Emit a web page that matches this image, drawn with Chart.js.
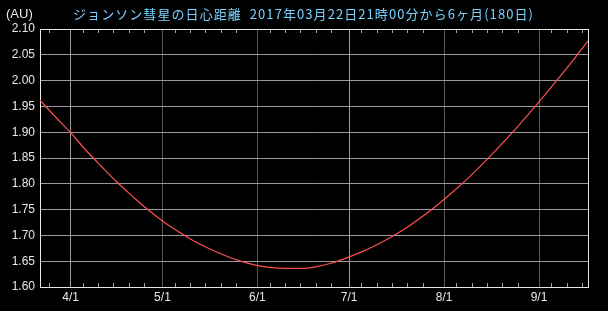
<!DOCTYPE html>
<html><head><meta charset="utf-8">
<script src="https://cdn.jsdelivr.net/npm/chart.js@4/dist/chart.umd.min.js"></script>
<style>html,body{margin:0;padding:0;background:#000;}#wrap{width:608px;height:311px;position:relative}</style>
</head><body><div id="wrap"><canvas id="c" width="608" height="311"></canvas></div>
<script>
// ---- data ----
const titleText = 'ジョンソン彗星の日心距離  2017年03月22日21時00分から6ヶ月(180日)';
const unitLabel = '(AU)';
const startDate = [2017, 3, 22, 21];          // year, month, day, hour
const totalDays = 179;
const dayIndex   = [0, 5, 10, 15, 20, 25, 30, 35, 40, 45, 50, 55, 60, 65, 70, 75, 80, 85, 90, 95, 100, 105, 110, 115, 120, 125, 130, 135, 140, 145, 150, 155, 160, 165, 170, 175, 179];
const distanceAU = [1.962, 1.930, 1.899, 1.865, 1.834, 1.804, 1.777, 1.751, 1.728, 1.708, 1.690, 1.675, 1.662, 1.651, 1.643, 1.638, 1.636, 1.636, 1.639, 1.646, 1.656, 1.668, 1.682, 1.698, 1.716, 1.737, 1.760, 1.785, 1.812, 1.841, 1.872, 1.904, 1.938, 1.973, 2.009, 2.046, 2.077];
const monthTickLabels = ['4/1', '5/1', '6/1', '7/1', '8/1', '9/1'];
const minorTickDays = [5, 10, 15, 20, 25];
const yMin = 1.60, yMax = 2.10, yStep = 0.05;

// ---- helpers ----
const t0 = Date.UTC(startDate[0], startDate[1] - 1, startDate[2], startDate[3]);
function idxOf(m, d) { return (Date.UTC(startDate[0], m - 1, d, startDate[3]) - t0) / 86400000; }
const monthTicks = monthTickLabels.map(s => { const [m, d] = s.split('/').map(Number); return { value: idxOf(m, d), label: s, month: m }; });
const points = dayIndex.map((d, i) => ({ x: d, y: distanceAU[i] }));

const FONT = "'Liberation Sans', Arial, sans-serif";

const decor = {
  id: 'decor',
  afterDraw(chart) {
    const ctx = chart.ctx, a = chart.chartArea, xs = chart.scales.x;
    ctx.save();
    // minor ticks (top & bottom)
    ctx.strokeStyle = '#a0a0a0'; ctx.lineWidth = 1;
    ctx.beginPath();
    for (let m = startDate[1]; m <= 10; m++) {
      for (const d of minorTickDays) {
        const v = idxOf(m, d);
        if (v <= 0 || v >= totalDays) continue;
        const x = Math.round(xs.getPixelForValue(v)) + 0.5;
        ctx.moveTo(x, a.bottom); ctx.lineTo(x, a.bottom - 4);
        ctx.moveTo(x, a.top); ctx.lineTo(x, a.top + 4);
      }
    }
    ctx.stroke();
    // top & right borders
    ctx.strokeStyle = '#e8e8e8';
    ctx.beginPath();
    ctx.moveTo(a.left, a.top + 0.5); ctx.lineTo(a.right + 1, a.top + 0.5);
    ctx.moveTo(a.right + 0.5, a.top); ctx.lineTo(a.right + 0.5, a.bottom + 1);
    ctx.stroke();
    // texts
    ctx.textBaseline = 'middle';
    ctx.fillStyle = '#e8e8e8';
    ctx.font = "13px " + FONT;
    ctx.fillText(unitLabel, 6, 14);
    ctx.fillStyle = '#78d2ff';
    ctx.font = "13px 'Noto Sans CJK JP', sans-serif";
    const target = 461;
    const w = ctx.measureText(titleText).width;
    if ('letterSpacing' in ctx) {
      ctx.letterSpacing = ((target - w) / titleText.length).toFixed(2) + 'px';
    }
    ctx.fillText(titleText, 73, 14);
    ctx.restore();
  }
};

new Chart(document.getElementById('c'), {
  type: 'line',
  data: { datasets: [{ data: points, borderColor: '#ff5050', borderWidth: 1.2, pointRadius: 0, tension: 0.4, cubicInterpolationMode: 'monotone', fill: false }] },
  options: {
    responsive: false, animation: false, devicePixelRatio: 1,
    layout: { padding: { left: 0, top: 29, right: 20, bottom: 0 } },
    plugins: { legend: { display: false }, tooltip: { enabled: false }, title: { display: false } },
    scales: {
      x: {
        type: 'linear', min: 0, max: totalDays,
        afterBuildTicks(s) { s.ticks = monthTicks.map(t => ({ value: t.value })); },
        afterFit(s) { s.height = 24; },
        ticks: { color: '#e8e8e8', font: { family: FONT, size: 12 }, padding: 3, maxRotation: 0, autoSkip: false,
          callback(v) { const t = monthTicks.find(t => t.value === v); return t ? t.label : ''; } },
        grid: { drawTicks: false, color(c) { const t = monthTicks.find(t => t.value === (c.tick && c.tick.value)); return t && (t.month % 3 === 1) ? '#a098a0' : '#585858'; } },
        border: { color: '#e8e8e8', width: 1 }
      },
      y: {
        min: yMin, max: yMax,
        afterFit(s) { s.width = 40; },
        ticks: { stepSize: yStep, color: '#e8e8e8', font: { family: FONT, size: 12 }, padding: 5,
          callback(v) { return Number(v).toFixed(2); } },
        grid: { drawTicks: false, color: '#a098a0' },
        border: { color: '#e8e8e8', width: 1 }
      }
    }
  },
  plugins: [decor]
});
</script>
</body></html>
